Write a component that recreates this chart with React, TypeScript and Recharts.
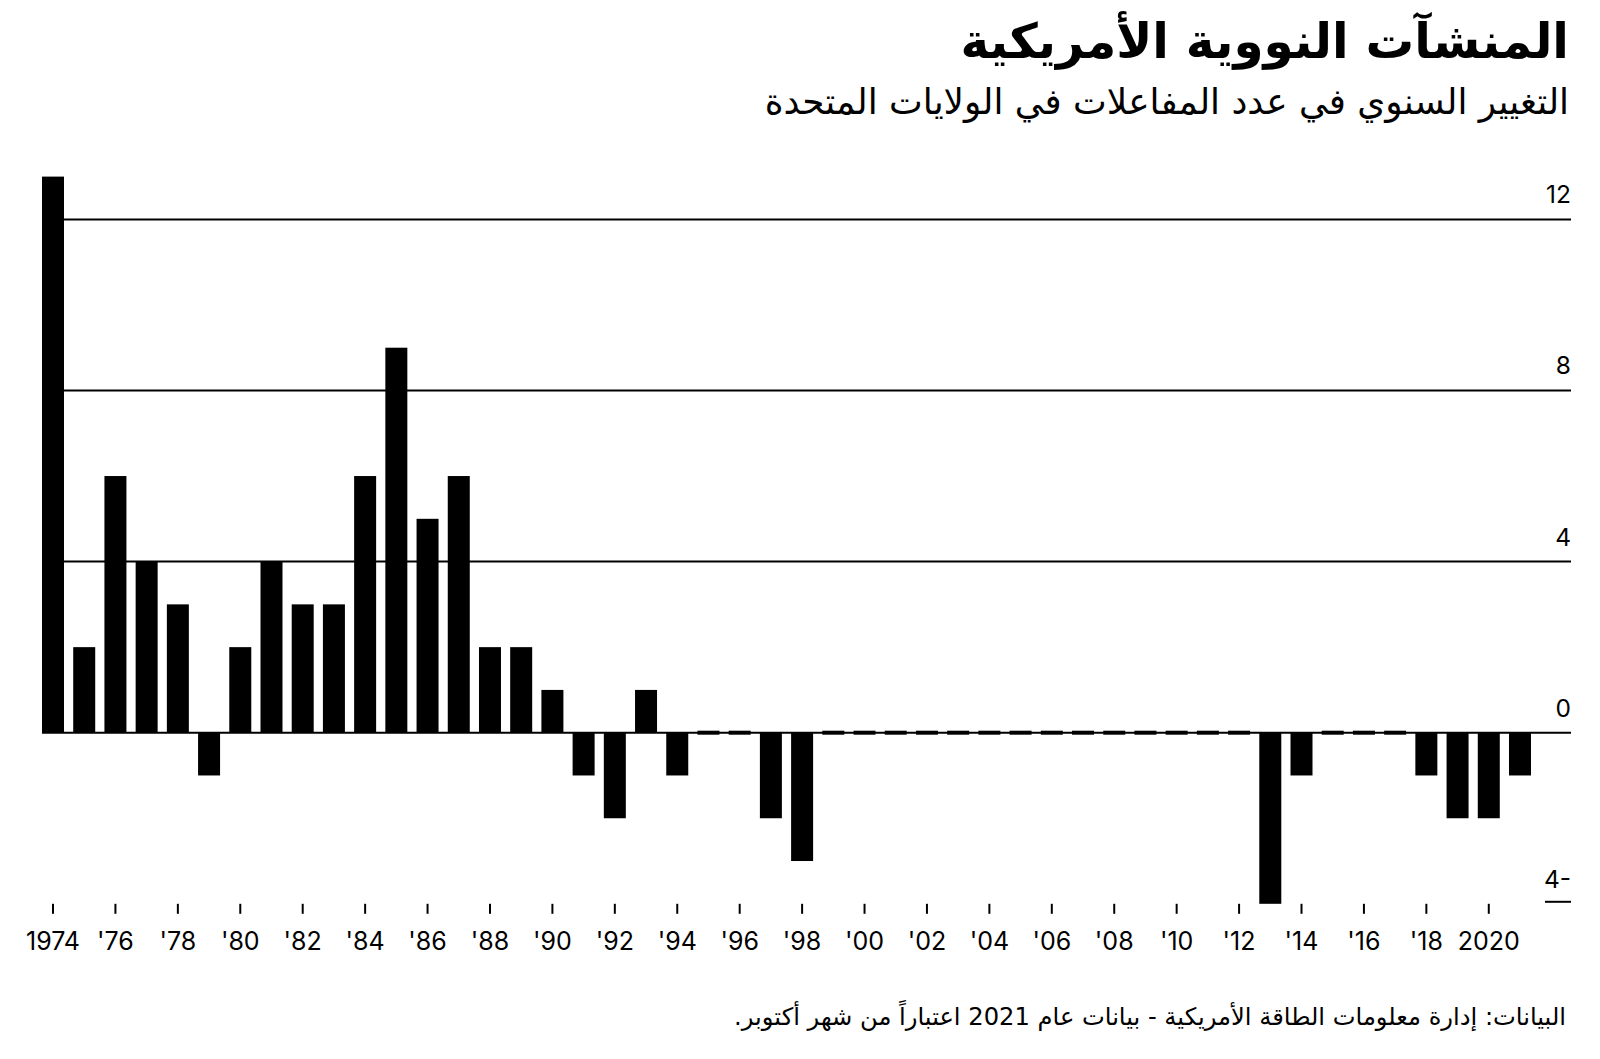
import React from "react";
import { BarChart, Bar, XAxis, YAxis, ReferenceLine } from "recharts";

const years: number[] = [
  1974, 1975, 1976, 1977, 1978, 1979, 1980, 1981, 1982, 1983, 1984, 1985, 1986, 1987, 1988, 1989,
  1990, 1991, 1992, 1993, 1994, 1995, 1996, 1997, 1998, 1999, 2000, 2001, 2002, 2003, 2004, 2005,
  2006, 2007, 2008, 2009, 2010, 2011, 2012, 2013, 2014, 2015, 2016, 2017, 2018, 2019, 2020, 2021,
];
const changes: number[] = [
  13, 2, 6, 4, 3, -1, 2, 4, 3, 3, 6, 9, 5, 6, 2, 2,
  1, -1, -2, 1, -1, 0, 0, -2, -3, 0, 0, 0, 0, 0, 0, 0,
  0, 0, 0, 0, 0, 0, 0, -4, -1, 0, 0, 0, -1, -2, -2, -1,
];
const yTicks: number[] = [-4, 0, 4, 8, 12];
const gridValues: number[] = [0, 4, 8, 12];

const title = "المنشآت النووية الأمريكية";
const subtitle = "التغيير السنوي في عدد المفاعلات في الولايات المتحدة";
const source = "البيانات: إدارة معلومات الطاقة الأمريكية - بيانات عام 2021 اعتباراً من شهر أكتوبر.";

const data = years.map((y, i) => ({ year: y, v: changes[i] }));

const fmtYear = (y: number) => (y === 1974 || y === 2020 ? String(y) : "'" + String(y).slice(2));
const fmtY = (v: number) => (v < 0 ? `${Math.abs(v)}-` : String(v));

const BarShape = (props: any) => {
  const { x, y, width, height } = props;
  if (!height || Math.abs(height) < 0.5) {
    return <rect x={x} y={y - 2} width={width} height={4} fill="#000" />;
  }
  const top = Math.min(y, y + height);
  return <rect x={x} y={top} width={width} height={Math.abs(height)} fill="#000" />;
};

const PLOT_RIGHT = 1571;

const YTick = (props: any) => {
  const { y, payload } = props;
  const v = payload.value;
  const x = PLOT_RIGHT;
  return (
    <g>
      <text
        x={x}
        y={y - 16}
        textAnchor="end"
        fontFamily="Inter, 'Noto Sans', sans-serif"
        fontSize={24.5}
        fill="#000"
      >
        {fmtY(v)}
      </text>
      {v === -4 ? <line x1={x - 26} x2={x} y1={y - 2} y2={y - 2} stroke="#000" strokeWidth={2} /> : null}
    </g>
  );
};

export default function App() {
  return (
    <div style={{ position: "absolute", left: 0, top: 0, width: 1600, height: 1059, background: "#fff", overflow: "hidden" }}>
      <div
        dir="rtl"
        style={{
          position: "absolute",
          right: 31,
          top: 11,
          fontFamily: "'DejaVu Sans', sans-serif",
          fontWeight: 700,
          fontSize: 48.5,
          lineHeight: "60px",
          color: "#000",
          whiteSpace: "nowrap",
        }}
      >
        {title}
      </div>
      <div
        dir="rtl"
        style={{
          position: "absolute",
          right: 31,
          top: 80,
          fontFamily: "'DejaVu Sans', sans-serif",
          fontWeight: 400,
          fontSize: 35.8,
          lineHeight: "44px",
          color: "#000",
          whiteSpace: "nowrap",
        }}
      >
        {subtitle}
      </div>
      <div
        dir="rtl"
        style={{
          position: "absolute",
          right: 34,
          top: 1000,
          fontFamily: "'DejaVu Sans', sans-serif",
          fontWeight: 400,
          fontSize: 24.2,
          lineHeight: "34px",
          color: "#000",
          whiteSpace: "nowrap",
        }}
      >
        {source}
      </div>
      <div style={{ position: "absolute", left: 0, top: 0 }}>
        <BarChart
          width={1600}
          height={1059}
          data={data}
          margin={{ top: 176.6, right: 28, bottom: 95.2, left: 42 }}
          barCategoryGap="14.75%"
        >
          {gridValues.map((g) => (
            <ReferenceLine key={g} y={g} stroke="#000" strokeWidth={2} />
          ))}
          <XAxis
            dataKey="year"
            interval={1}
            tickFormatter={fmtYear}
            axisLine={false}
            tickLine={{ stroke: "#000", strokeWidth: 2 }}
            tickSize={10}
            tickMargin={18}
            padding={{ left: -4.6, right: 35.4 }}
            tick={{ fill: "#000", fontSize: 25, fontFamily: "Inter, 'Noto Sans', sans-serif" }}
            height={60}
          />
          <YAxis
            orientation="right"
            width={1}
            domain={[-4, 13]}
            ticks={yTicks}
            axisLine={false}
            tickLine={false}
            tickSize={0}
            tickMargin={0}
            tick={<YTick />}
            interval={0}
          />
          <Bar dataKey="v" fill="#000" isAnimationActive={false} shape={<BarShape />} />
        </BarChart>
      </div>
    </div>
  );
}
